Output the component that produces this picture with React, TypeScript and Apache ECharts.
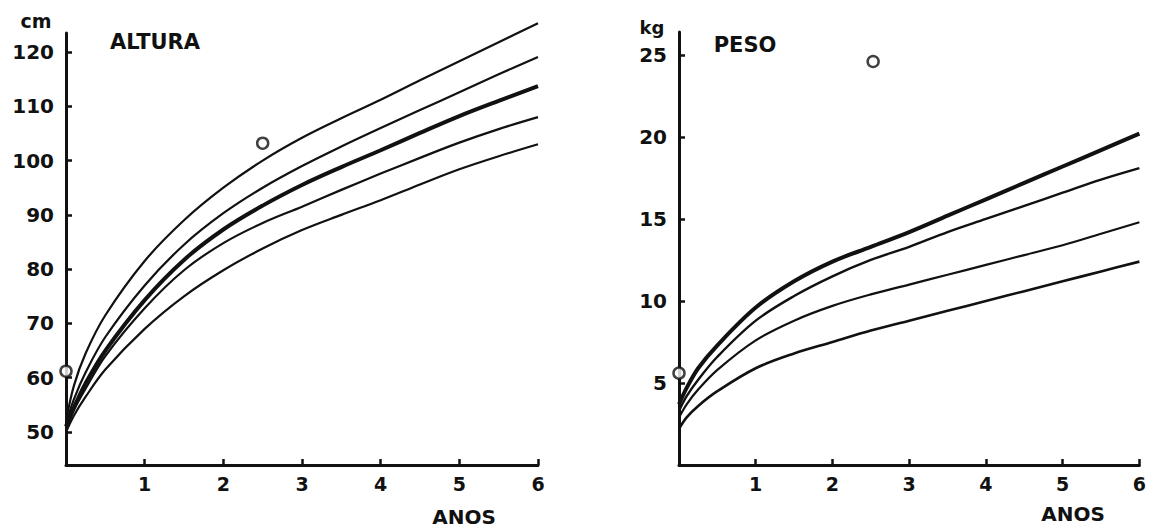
import React, { useEffect, useRef } from "react";
import * as echarts from "echarts";

const AGES = [0, 0.1, 0.25, 0.5, 1, 1.5, 2, 2.5, 3, 3.5, 4, 4.5, 5, 5.5, 6];

// ALTURA (cm)
const H_TOP = [52, 58.5, 64.5, 71.5, 81.5, 89, 95, 100, 104.2, 107.8, 111.2, 114.8, 118.3, 121.8, 125.3];
const H_2 = [51.5, 56, 61, 67.5, 77, 84.5, 90.3, 95, 99, 102.6, 106, 109.3, 112.6, 115.9, 119.1];
const H_MID = [51, 54.5, 59, 65, 74.3, 81.7, 87.3, 91.7, 95.5, 98.8, 101.9, 105.1, 108.2, 111, 113.7];
const H_4 = [50.5, 54, 58, 64, 72.8, 79.8, 84.8, 88.5, 91.5, 94.6, 97.6, 100.5, 103.3, 105.8, 108];
const H_LOW = [50, 53, 56.5, 61.5, 69, 75, 79.8, 83.8, 87.2, 90, 92.7, 95.6, 98.4, 100.8, 103];
const H_POINTS = [[0, 61.2], [2.5, 103.2]];

// PESO (kg)
const W_TOP = [3.7, 4.7, 5.9, 7.3, 9.6, 11.2, 12.4, 13.3, 14.2, 15.2, 16.2, 17.2, 18.2, 19.2, 20.2];
const W_2 = [3.3, 4.2, 5.2, 6.6, 8.8, 10.3, 11.5, 12.5, 13.3, 14.2, 15.0, 15.8, 16.6, 17.4, 18.1];
const W_3 = [2.9, 3.7, 4.6, 5.8, 7.6, 8.8, 9.7, 10.4, 11.0, 11.6, 12.2, 12.8, 13.4, 14.1, 14.8];
const W_LOW = [2.2, 2.9, 3.6, 4.5, 5.9, 6.8, 7.5, 8.2, 8.8, 9.4, 10.0, 10.6, 11.2, 11.8, 12.4];
const W_POINTS = [[0, 5.6], [2.53, 24.6]];

const X_TICKS = [1, 2, 3, 4, 5, 6];
const H_TICKS = [50, 60, 70, 80, 90, 100, 110, 120];
const W_TICKS = [5, 10, 15, 20, 25];

const FONT = "DejaVu Sans";
const INK = "#111";

function lineSeries(xi: number, vals: number[], width: number) {
  return {
    type: "line",
    xAxisIndex: xi,
    yAxisIndex: xi,
    data: AGES.map((a, i) => [a, vals[i]]),
    smooth: 0.35,
    showSymbol: false,
    clip: false,
    lineStyle: { color: INK, width },
    silent: true,
  };
}

function pointSeries(xi: number, pts: number[][]) {
  return {
    type: "scatter",
    xAxisIndex: xi,
    yAxisIndex: xi,
    data: pts,
    symbol: "circle",
    symbolSize: 11,
    clip: false,
    itemStyle: { color: "#fff", borderColor: INK, borderWidth: 2.5 },
    z: 5,
  };
}

function xAxis(gi: number) {
  return {
    type: "value",
    gridIndex: gi,
    min: 0,
    max: 6,
    axisLine: { show: true, lineStyle: { color: INK, width: 3 } },
    axisTick: { show: true, inside: true, length: 6, customValues: X_TICKS, lineStyle: { color: INK, width: 2.5 } },
    axisLabel: {
      customValues: X_TICKS,
      color: INK,
      fontFamily: FONT,
      fontWeight: "bold",
      fontSize: 19,
      margin: 9,
    },
    splitLine: { show: false },
  };
}

function yAxis(gi: number, min: number, max: number, ticks: number[]) {
  return {
    type: "value",
    gridIndex: gi,
    min,
    max,
    axisLine: { show: true, lineStyle: { color: INK, width: 3 } },
    axisTick: { show: true, inside: true, length: 6, customValues: ticks, lineStyle: { color: INK, width: 2.5 } },
    axisLabel: {
      customValues: ticks,
      color: INK,
      fontFamily: FONT,
      fontWeight: "bold",
      fontSize: 20,
      margin: 12,
    },
    splitLine: { show: false },
  };
}

function txt(x: number, y: number, text: string, size: number, spacing = 0) {
  return {
    type: "text",
    x,
    y,
    style: {
      text,
      fill: INK,
      font: `bold ${size}px "${FONT}"`,
      textAlign: "center",
      textVerticalAlign: "middle",
      letterSpacing: spacing,
    },
  };
}

export default function App() {
  const ref = useRef<HTMLDivElement>(null);
  useEffect(() => {
    if (!ref.current) return;
    const chart = echarts.init(ref.current, null, { renderer: "svg" });
    chart.setOption({
      animation: false,
      backgroundColor: "#fff",
      grid: [
        { left: 66, top: 33, width: 472, height: 432 },
        { left: 679, top: 32, width: 470, height: 433 },
      ],
      xAxis: [xAxis(0), xAxis(1)],
      yAxis: [yAxis(0, 43.92, 123.5, H_TICKS), yAxis(1, 0, 26.4, W_TICKS)],
      series: [
        lineSeries(0, H_TOP, 2.2),
        lineSeries(0, H_2, 2.2),
        lineSeries(0, H_MID, 4),
        lineSeries(0, H_4, 2.2),
        lineSeries(0, H_LOW, 2.2),
        pointSeries(0, H_POINTS),
        lineSeries(1, W_TOP, 4),
        lineSeries(1, W_2, 2.4),
        lineSeries(1, W_3, 2.2),
        lineSeries(1, W_LOW, 2.6),
        pointSeries(1, W_POINTS),
      ],
      graphic: [
        txt(36, 21, "cm", 19),
        txt(155, 42, "ALTURA", 21, 3),
        txt(464, 517, "ANOS", 20),
        txt(652, 27, "kg", 18),
        txt(745, 45, "PESO", 21, 1.5),
        txt(1073, 514, "ANOS", 20),
      ],
    });
    return () => chart.dispose();
  }, []);
  return (
    <div
      ref={ref}
      style={{ position: "absolute", left: 0, top: 0, width: 1149, height: 528 }}
    />
  );
}
